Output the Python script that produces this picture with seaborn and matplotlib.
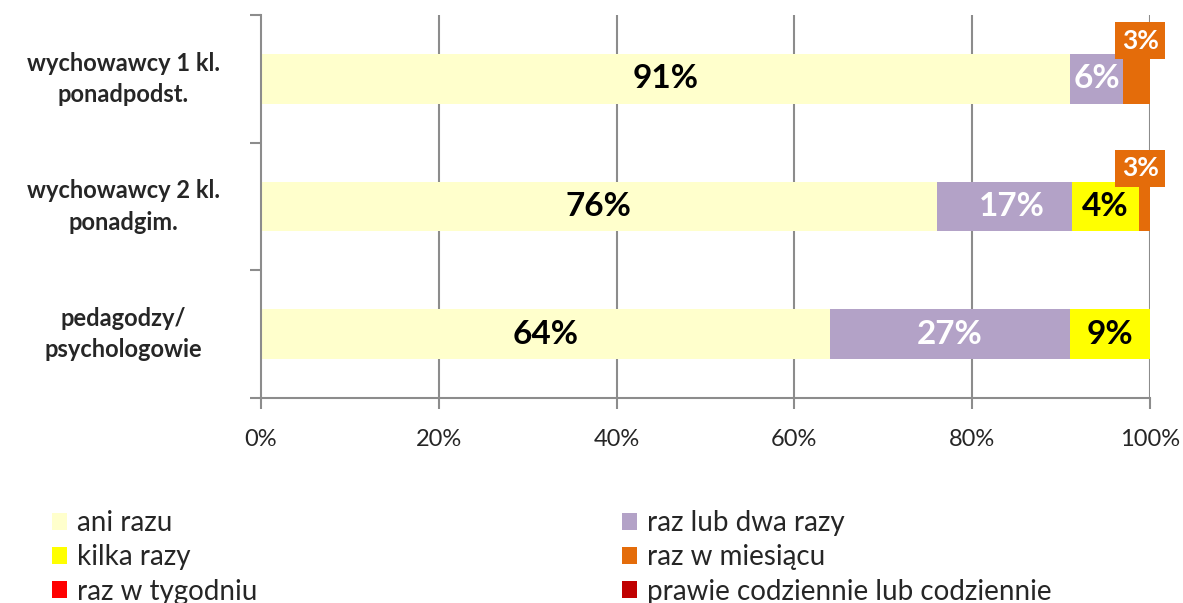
import matplotlib.pyplot as plt
import seaborn as sns
import numpy as np
import pandas as pd
from matplotlib.patches import Patch

# dane
grupy = ["wychowawcy 1 kl.\nponadpodst.", "wychowawcy 2 kl.\nponadgim.", "pedagodzy/\npsychologowie"]
kategorie = ["ani razu", "raz lub dwa razy", "kilka razy", "raz w miesiącu",
             "raz w tygodniu", "prawie codziennie lub codziennie"]
ani_razu = [91, 76, 64]
raz_lub_dwa = [6, 17, 27]
kilka_razy = [0, 4, 9]
raz_w_miesiacu = [3, 3, 0]
raz_w_tygodniu = [0, 0, 0]
prawie_codziennie = [0, 0, 0]

kolory = ["#FFFFCC", "#B3A2C7", "#FFFF00", "#E46C0A", "#FF0000", "#C00000"]
kolory_tekstu = ["black", "white", "black", "white", "white", "white"]

serie = [ani_razu, raz_lub_dwa, kilka_razy, raz_w_miesiacu, raz_w_tygodniu, prawie_codziennie]
df = pd.DataFrame(dict(zip(kategorie, serie)), index=grupy)
cum = df.cumsum(axis=1)

sns.set_theme(style="white")
plt.rcParams["font.family"] = ["Lato", "DejaVu Sans"]

fig = plt.figure(figsize=(11.83, 6.03), dpi=100)
ax = fig.add_axes([261 / 1183, 1 - 398 / 603, 889 / 1183, 383 / 603])

# stacked bars: rysujemy sumy skumulowane od ostatniej do pierwszej
for kat, kol in reversed(list(zip(kategorie, kolory))):
    sns.barplot(x=cum[kat].values, y=grupy, orient="h", color=kol, ax=ax,
                width=0.39, saturation=1, linewidth=0)

ax.set_xlim(0, 100)
ax.set_ylim(2.5, -0.5)

# siatka
for x in range(20, 101, 20):
    ax.axvline(x, color="#8c8c8c", lw=1.5, zorder=0)
ax.set_axisbelow(True)

# etykiety wartosci
for i, g in enumerate(grupy):
    for kat, tk, kol in zip(kategorie, kolory_tekstu, kolory):
        v = df.loc[g, kat]
        if v == 0:
            continue
        xc = cum.loc[g, kat] - v / 2
        if kat == "raz w miesiącu":
            ax.text(xc + 0.4, i - 0.3, f"{v}%", ha="center", va="center", fontsize=19,
                    fontweight="bold", color="white",
                    bbox=dict(boxstyle="square,pad=0.25", fc=kol, ec="none"))
        elif kat == "kilka razy":
            ax.text(xc, i, f"{v}%", ha="center", va="center", fontsize=24,
                    fontweight="bold", color=tk,
                    bbox=dict(boxstyle="square,pad=0.3", fc=kol, ec="none"))
        else:
            ax.text(xc, i, f"{v}%", ha="center", va="center", fontsize=24,
                    fontweight="bold", color=tk)

# osie
for s in ["top", "right"]:
    ax.spines[s].set_visible(False)
for s in ["left", "bottom"]:
    ax.spines[s].set_color("#8c8c8c")
    ax.spines[s].set_linewidth(1.5)

ax.set_xticks(range(0, 101, 20))
ax.set_xticklabels([f"{x}%" for x in range(0, 101, 20)], fontsize=17)
ax.set_yticks(range(3))
ax.set_yticklabels(grupy, fontsize=17, fontweight="bold", ha="center", va="center",
                   linespacing=1.45)
ax.tick_params(axis="y", which="major", length=0, pad=99)
ax.set_yticks([-0.5, 0.5, 1.5, 2.5], minor=True)
ax.tick_params(axis="y", which="minor", length=8, width=1.5, color="#8c8c8c", left=True)
ax.tick_params(axis="x", which="major", length=8, width=1.5, color="#8c8c8c", bottom=True, pad=14)
ax.set_xlabel("")
ax.set_ylabel("")

# legenda - dwie kolumny, kolejnosc wierszami
uchwyty = [Patch(facecolor=k, edgecolor="none") for k in kolory]
for kol_idx, x0 in [(0, 52 / 1183), (1, 622 / 1183)]:
    idx = list(range(kol_idx, len(kategorie), 2))
    leg = fig.legend([uchwyty[j] for j in idx], [kategorie[j] for j in idx],
                     loc="upper left", bbox_to_anchor=(x0, 1 - 510 / 603), ncols=1,
                     frameon=False, fontsize=20, handlelength=0.55, handleheight=0.55,
                     handletextpad=0.35, labelspacing=0.3, borderaxespad=0, borderpad=0)

plt.savefig("out.png", dpi=100)
